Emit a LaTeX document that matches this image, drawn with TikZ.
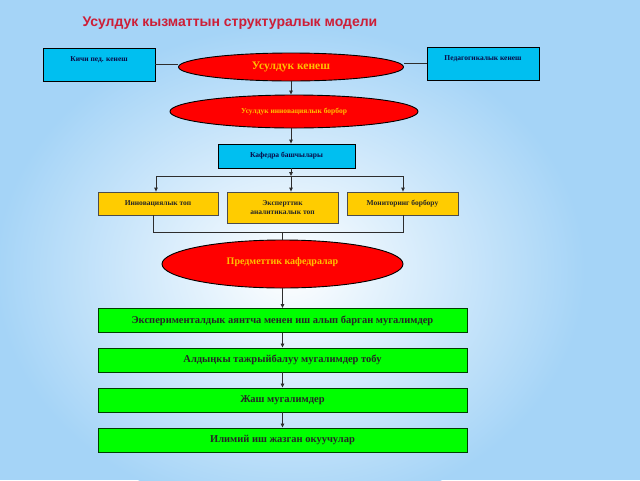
\documentclass[tikz,border=0pt]{standalone}
\usepackage{fontspec}
\setmainfont{Liberation Serif}
\newfontfamily\titlefont{Liberation Sans}
\usetikzlibrary{arrows.meta, positioning, shapes.geometric, calc}
\definecolor{bgblue}{RGB}{165,212,247}
\definecolor{boxcyan}{RGB}{0,191,240}
\definecolor{boxgold}{RGB}{255,204,0}
\definecolor{boxgreen}{RGB}{0,255,0}
\definecolor{ovalred}{RGB}{255,0,0}
\definecolor{ovaltext}{RGB}{255,192,0}
\definecolor{titlered}{RGB}{205,30,55}
\definecolor{inkblue}{RGB}{10,10,70}
\definecolor{wire}{RGB}{45,45,45}
\tikzset{
  cyanbox/.style={draw=black, line width=0.8pt, fill=boxcyan, minimum width=112pt, minimum height=33pt, inner sep=0pt},
  goldbox/.style={draw=black!70, line width=0.8pt, fill=boxgold, minimum width=120pt, minimum height=23pt, inner sep=0pt},
  greenbox/.style={draw=black!60!green!60!black, line width=0.9pt, fill=boxgreen, minimum width=369pt, minimum height=24pt, inner sep=0pt,
    font=\bfseries\fontsize{10.5}{12}\selectfont, text=black!85},
  oval/.style={ellipse, draw=black, line width=0.9pt, fill=ovalred, inner sep=0pt, text=ovaltext},
  boxtext/.style={font=\bfseries\fontsize{7.5}{9}\selectfont, text=inkblue},
  wireline/.style={draw=wire, line width=0.8pt},
  arr/.style={wireline, -{Triangle[length=4pt, width=3.5pt]}}
}
\begin{document}
\begin{tikzpicture}[x=1pt, y=-1pt]
    \useasboundingbox (0,0) rectangle (640,480);
    % фон
    \fill[bgblue] (0,0) rectangle (640,480);
    \shade[inner color=white, outer color=bgblue] (290,270) ellipse [x radius=295, y radius=245];
    % аталышы
    \node[anchor=west, font=\titlefont\bfseries\fontsize{14}{16}\selectfont, text=titlered] (title) at (79,23) {Усулдук кызматтын структуралык модели};
    % жогорку катар
    \node[cyanbox, label={[boxtext, anchor=north, yshift=-5pt]north:Кичи пед. кенеш}] (kichi) at (99,64.5) {};
    \node[cyanbox, label={[boxtext, anchor=north, yshift=-5pt]north:Педагогикалык кенеш}] (ped) at (483,63.5) {};
    \node[oval, minimum width=225pt, minimum height=28pt, font=\bfseries\fontsize{11.5}{13}\selectfont] (usul) at (291,67) {Усулдук кенеш};
    \node[oval, minimum width=248pt, minimum height=33pt, font=\bfseries\fontsize{7.5}{9}\selectfont] (innov) at (294,111.5) {Усулдук инновациялык борбор};
    \node[cyanbox, minimum width=137pt, minimum height=24pt, boxtext] (kaf) at (286.5,156) {Кафедра башчылары};
    % топтор
    \node[goldbox, label={[boxtext, text=black!85, anchor=north, yshift=-5pt]north:Инновациялык топ}] (inn) at (158,203.5) {};
    \node[goldbox, minimum width=111pt, minimum height=31pt, boxtext, text=black!85, align=center] (exp) at (282.5,207.5) {Эксперттик\\аналитикалык топ};
    \node[goldbox, minimum width=111pt, label={[boxtext, text=black!85, anchor=north, yshift=-5pt]north:Мониторинг борбору}] (mon) at (402.5,203.5) {};
    \node[oval, minimum width=241pt, minimum height=48pt, font=\bfseries\fontsize{10}{12}\selectfont] (pred) at (282.5,264) {\raisebox{6pt}{Предметтик кафедралар}};
    % мугалимдер
    \node[greenbox] (g1) at (282.5,320.5) {Экспериментaлдык аянтча менен иш алып барган мугалимдер};
    \node[greenbox] (g2) at (282.5,360) {Алдыңкы тажрыйбалуу мугалимдер тобу};
    \node[greenbox] (g3) at (282.5,400) {Жаш мугалимдер};
    \node[greenbox] (g4) at (282.5,440) {Илимий иш жазган окуучулар};
    % байланыштар
    \coordinate (busL) at (156,176);
    \coordinate (busM) at (291,176);
    \coordinate (busR) at (403,176);
    \coordinate (lowL) at (153,232);
    \coordinate (lowM) at (282.5,232);
    \coordinate (lowR) at (403,232);
    \draw[wireline] (kichi.east) -- (kichi.east -| usul.west);
    \draw[wireline] (ped.west) -- (ped.west -| usul.east);
    \draw[arr] (usul.south) -- (usul.south |- innov.north);
    \draw[arr] (usul.south |- innov.south) -- (busM |- kaf.north);
    \draw[arr] (busM |- kaf.south) -- (busM);
    \draw[wireline] (busL) -- (busR);
    \draw[arr] (busL) -- (busL |- inn.north);
    \draw[arr] (busM) -- (busM |- exp.north);
    \draw[arr] (busR) -- (busR |- mon.north);
    \draw[wireline] (lowL |- inn.south) -- (lowL) -- (lowR) -- (lowR |- mon.south);
    \draw[wireline] (lowM) -- (pred.north);
    \draw[arr] (pred.south) -- (g1.north);
    \draw[arr] (g1.south) -- (g2.north);
    \draw[arr] (g2.south) -- (g3.north);
    \draw[arr] (g3.south) -- (g4.north);
\end{tikzpicture}
\end{document}
